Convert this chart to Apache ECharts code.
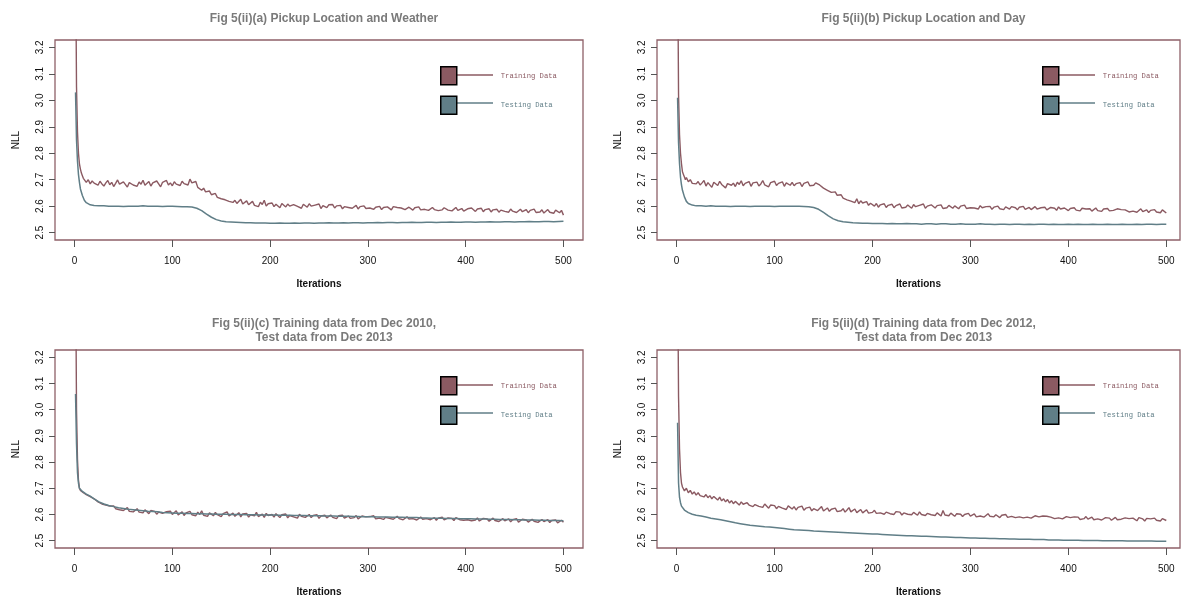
<!DOCTYPE html>
<html><head><meta charset="utf-8">
<script src="https://cdn.jsdelivr.net/npm/echarts@6/dist/echarts.min.js"></script>
<style>html,body{margin:0;padding:0;background:#fff}#c{width:1181px;height:598px}</style>
</head><body><div id="c"></div>
<script>
// iterations for the (smooth) testing series
const testIters = [1,2,3,4,5,6,8,10,12,14,16,18,20,
 25,30,35,40,45,50,55,60,65,70,75,80,85,90,95,100,105,110,115,
 120,125,130,135,140,145,150,155,160,165,170,175,180,185,190,195,200,
 205,210,215,220,225,230,235,240,245,250,255,260,265,270,275,280,285,290,295,300,
 305,310,315,320,325,330,335,340,345,350,355,360,365,370,375,380,385,390,395,400,
 405,410,415,420,425,430,435,440,445,450,455,460,465,470,475,480,485,490,495,500];
// iterations for the (noisy) training series: 1..10, 12..20, then every 2nd iteration to 500
const trainIters = [1,2,3,4,5,6,7,8,9,10,12,14,16,18,20];
for (let it = 22; it <= 500; it += 2) trainIters.push(it);

const titles = [
 'Fig 5(ii)(a) Pickup Location and Weather',
 'Fig 5(ii)(b) Pickup Location and Day',
 'Fig 5(ii)(c) Training data from Dec 2010,\nTest data from Dec 2013',
 'Fig 5(ii)(d) Training data from Dec 2012,\nTest data from Dec 2013'
];
const xTicks = [0,100,200,300,400,500];
const yTicks = [2.5,2.6,2.7,2.8,2.9,3.0,3.1,3.2];

// Panel (a)
const trainA = [3.60,3.05,2.88,2.80,2.76,2.74,2.725,2.715,2.705,2.698,2.69,2.70,2.684,2.695,2.687,
 2.690,2.679,2.694,2.684,2.676,2.688,2.697,2.681,2.690,2.674,
 2.686,2.699,2.683,2.677,2.692,2.685,2.672,2.689,2.696,2.680,
 2.687,2.675,2.691,2.683,2.698,2.679,2.686,2.693,2.676,2.688,
 2.681,2.695,2.684,2.673,2.690,2.686,2.697,2.680,2.688,2.677,
 2.692,2.683,2.689,2.678,2.694,2.685,2.691,2.680,2.702,2.688,
 2.683,2.693,2.671,2.666,2.660,2.668,2.654,2.650,2.657,2.643,
 2.640,2.648,2.633,2.637,2.628,2.635,2.624,2.630,2.618,2.625,
 2.614,2.622,2.610,2.617,2.626,2.608,2.614,2.620,2.605,2.612,
 2.618,2.603,2.610,2.598,2.615,2.606,2.622,2.600,2.609,2.604,
 2.612,2.598,2.607,2.601,2.594,2.610,2.603,2.597,2.608,2.600,
 2.595,2.606,2.612,2.599,2.603,2.592,2.607,2.601,2.596,2.609,
 2.600,2.593,2.604,2.597,2.608,2.591,2.602,2.598,2.594,2.605,
 2.599,2.606,2.593,2.601,2.596,2.603,2.590,2.598,2.604,2.595,
 2.600,2.592,2.597,2.603,2.589,2.598,2.594,2.601,2.591,2.597,
 2.593,2.600,2.588,2.596,2.592,2.599,2.587,2.595,2.590,2.597,
 2.594,2.586,2.598,2.591,2.595,2.588,2.593,2.599,2.587,2.592,
 2.596,2.589,2.585,2.594,2.590,2.597,2.586,2.592,2.588,2.595,
 2.584,2.591,2.595,2.587,2.593,2.583,2.590,2.586,2.594,2.589,
 2.585,2.592,2.582,2.589,2.595,2.584,2.588,2.591,2.581,2.587,
 2.590,2.583,2.593,2.586,2.580,2.589,2.584,2.592,2.579,2.587,
 2.583,2.590,2.578,2.586,2.581,2.588,2.577,2.585,2.591,2.580,
 2.584,2.577,2.589,2.581,2.586,2.576,2.583,2.588,2.579,2.582,
 2.587,2.575,2.584,2.580,2.589,2.576,2.582,2.578,2.586,2.574,
 2.581,2.587,2.577,2.583,2.573,2.585,2.579,2.575,2.584,2.566];
const testA = [3.03,2.85,2.77,2.72,2.69,2.665,2.64,2.622,2.613,2.608,2.605,2.603,2.602,
 2.601,2.601,2.600,2.600,2.600,2.599,2.600,2.600,2.600,2.601,2.600,2.600,2.600,2.599,2.600,2.600,2.599,2.598,2.598,
 2.597,2.592,2.583,2.570,2.558,2.549,2.544,2.541,2.540,2.539,2.538,2.537,2.537,2.536,2.536,2.536,2.535,
 2.535,2.536,2.535,2.535,2.536,2.535,2.536,2.536,2.535,2.536,2.536,2.537,2.536,2.536,2.537,2.536,2.537,2.537,2.536,2.537,
 2.537,2.538,2.537,2.538,2.538,2.537,2.538,2.538,2.539,2.538,2.538,2.539,2.539,2.538,2.539,2.539,2.540,2.539,2.539,2.540,
 2.540,2.539,2.540,2.540,2.541,2.540,2.540,2.541,2.541,2.540,2.541,2.541,2.542,2.541,2.541,2.542,2.542,2.541,2.542,2.543];

// Panel (b)
const trainB = [3.60,3.02,2.87,2.80,2.76,2.73,2.72,2.71,2.70,2.708,2.692,2.70,2.686,2.693,2.684,
 2.693,2.680,2.688,2.697,2.676,2.689,2.683,2.671,2.690,2.684,
 2.678,2.694,2.682,2.688,2.669,2.685,2.692,2.679,2.687,2.674,
 2.690,2.682,2.696,2.677,2.686,2.681,2.693,2.675,2.688,2.683,
 2.691,2.676,2.684,2.697,2.680,2.687,2.673,2.689,2.682,2.694,
 2.678,2.686,2.681,2.692,2.675,2.688,2.684,2.679,2.690,2.677,
 2.685,2.680,2.689,2.674,2.686,2.681,2.692,2.677,2.684,2.679,
 2.688,2.694,2.680,2.675,2.668,2.672,2.660,2.664,2.652,2.648,
 2.654,2.641,2.636,2.643,2.630,2.634,2.624,2.630,2.619,2.624,
 2.613,2.628,2.609,2.620,2.612,2.605,2.617,2.603,2.611,2.606,
 2.600,2.610,2.596,2.605,2.601,2.609,2.595,2.603,2.598,2.607,
 2.594,2.602,2.597,2.608,2.593,2.600,2.596,2.604,2.599,2.592,
 2.606,2.598,2.594,2.603,2.597,2.608,2.592,2.600,2.596,2.605,
 2.599,2.593,2.602,2.596,2.605,2.591,2.598,2.594,2.603,2.597,
 2.592,2.601,2.596,2.590,2.600,2.595,2.604,2.591,2.598,2.594,
 2.600,2.593,2.597,2.589,2.602,2.594,2.590,2.598,2.593,2.599,
 2.588,2.596,2.592,2.600,2.590,2.595,2.587,2.597,2.592,2.589,
 2.598,2.591,2.594,2.586,2.596,2.590,2.599,2.588,2.593,2.595,
 2.587,2.592,2.598,2.589,2.585,2.594,2.590,2.596,2.586,2.591,
 2.595,2.588,2.592,2.584,2.597,2.589,2.586,2.593,2.588,2.583,
 2.591,2.587,2.594,2.585,2.590,2.582,2.592,2.586,2.589,2.584,
 2.590,2.581,2.588,2.593,2.583,2.587,2.580,2.589,2.585,2.591,
 2.582,2.588,2.584,2.579,2.590,2.583,2.587,2.580,2.586,2.589,
 2.578,2.585,2.581,2.588,2.577,2.584,2.590,2.579,2.583,2.586,
 2.576,2.584,2.580,2.587,2.578,2.583,2.575,2.586,2.580,2.574];
const testB = [3.01,2.84,2.76,2.71,2.68,2.66,2.635,2.618,2.610,2.606,2.604,2.602,2.601,
 2.601,2.600,2.601,2.600,2.600,2.600,2.599,2.600,2.600,2.600,2.599,2.600,2.600,2.600,2.600,2.599,2.600,2.600,2.600,
 2.600,2.600,2.599,2.598,2.595,2.588,2.576,2.563,2.552,2.545,2.541,2.539,2.537,2.536,2.535,2.535,2.534,
 2.534,2.534,2.533,2.534,2.533,2.533,2.534,2.533,2.533,2.532,2.533,2.533,2.532,2.533,2.533,2.532,2.532,2.533,2.532,2.532,
 2.532,2.533,2.532,2.532,2.531,2.532,2.532,2.531,2.532,2.532,2.531,2.532,2.531,2.532,2.532,2.531,2.532,2.531,2.531,2.532,
 2.531,2.532,2.531,2.531,2.532,2.531,2.531,2.532,2.531,2.531,2.532,2.531,2.531,2.532,2.531,2.532,2.532,2.531,2.532,2.532];

// Panel (c)
const trainC = [3.60,3.00,2.81,2.73,2.70,2.692,2.688,2.685,2.683,2.684,2.676,2.680,2.668,2.664,2.660,
 2.654,2.648,2.651,2.640,2.644,2.636,2.641,2.632,2.628,2.633,
 2.622,2.629,2.618,2.625,2.615,2.621,2.626,2.612,2.619,2.610,
 2.616,2.622,2.609,2.614,2.606,2.618,2.611,2.603,2.615,2.608,
 2.612,2.601,2.609,2.616,2.604,2.599,2.611,2.605,2.613,2.600,
 2.607,2.614,2.598,2.604,2.610,2.596,2.606,2.602,2.612,2.599,
 2.605,2.595,2.609,2.600,2.614,2.597,2.603,2.593,2.606,2.601,
 2.595,2.608,2.599,2.604,2.592,2.603,2.598,2.610,2.594,2.600,
 2.605,2.593,2.599,2.607,2.591,2.602,2.596,2.604,2.590,2.599,
 2.603,2.595,2.608,2.592,2.598,2.601,2.589,2.604,2.596,2.593,
 2.600,2.590,2.603,2.596,2.588,2.599,2.594,2.602,2.587,2.596,
 2.599,2.591,2.595,2.586,2.601,2.593,2.597,2.589,2.594,2.600,
 2.588,2.596,2.592,2.599,2.585,2.594,2.590,2.597,2.587,2.593,
 2.598,2.589,2.592,2.584,2.595,2.591,2.597,2.586,2.590,2.594,
 2.585,2.592,2.588,2.596,2.583,2.590,2.594,2.587,2.591,2.584,
 2.592,2.588,2.595,2.583,2.590,2.586,2.593,2.581,2.589,2.594,
 2.585,2.590,2.582,2.588,2.593,2.584,2.589,2.580,2.587,2.591,
 2.583,2.588,2.584,2.591,2.579,2.586,2.590,2.582,2.587,2.584,
 2.589,2.580,2.585,2.588,2.578,2.586,2.582,2.590,2.579,2.584,
 2.587,2.581,2.585,2.577,2.588,2.583,2.580,2.586,2.578,2.584,
 2.580,2.586,2.576,2.583,2.579,2.587,2.575,2.582,2.585,2.578,
 2.583,2.574,2.581,2.586,2.577,2.582,2.573,2.580,2.584,2.576,
 2.579,2.583,2.572,2.580,2.576,2.584,2.571,2.578,2.582,2.575,
 2.579,2.571,2.577,2.582,2.574,2.580,2.570,2.577,2.581,2.573,
 2.576,2.580,2.569,2.577,2.573,2.579,2.568,2.575,2.578,2.570];
const testC = [3.06,2.87,2.76,2.72,2.70,2.695,2.688,2.682,2.678,2.674,2.670,2.665,2.660,
 2.648,2.640,2.634,2.630,2.626,2.623,2.620,2.618,2.616,2.614,2.612,2.611,2.610,2.608,2.607,2.606,2.605,2.605,2.604,
 2.604,2.603,2.603,2.602,2.602,2.601,2.601,2.601,2.600,2.600,2.600,2.599,2.599,2.599,2.598,2.598,2.598,
 2.598,2.597,2.597,2.597,2.596,2.596,2.596,2.595,2.595,2.595,2.594,2.594,2.594,2.593,2.593,2.593,2.592,2.592,2.591,2.591,
 2.591,2.590,2.590,2.590,2.589,2.589,2.589,2.588,2.588,2.588,2.587,2.587,2.586,2.586,2.586,2.585,2.585,2.585,2.584,2.584,
 2.584,2.583,2.583,2.583,2.582,2.582,2.581,2.581,2.581,2.580,2.580,2.579,2.579,2.579,2.578,2.578,2.577,2.577,2.577,2.576];

// Panel (d)
const trainD = [3.60,3.05,2.85,2.76,2.72,2.705,2.70,2.69,2.695,2.70,2.683,2.692,2.678,2.686,2.674,
 2.683,2.672,2.679,2.667,2.676,2.664,2.672,2.660,2.669,2.663,
 2.655,2.666,2.652,2.660,2.648,2.657,2.644,2.653,2.641,2.650,
 2.643,2.636,2.648,2.639,2.632,2.645,2.636,2.641,2.630,2.638,
 2.644,2.631,2.637,2.627,2.640,2.633,2.624,2.636,2.629,2.634,
 2.622,2.631,2.637,2.624,2.629,2.619,2.633,2.626,2.621,2.630,
 2.617,2.627,2.623,2.632,2.616,2.624,2.620,2.628,2.614,2.622,
 2.627,2.615,2.621,2.630,2.613,2.619,2.625,2.612,2.620,2.616,
 2.624,2.611,2.618,2.614,2.622,2.609,2.617,2.626,2.610,2.615,
 2.621,2.607,2.614,2.619,2.606,2.613,2.618,2.605,2.612,2.608,
 2.616,2.604,2.610,2.606,2.613,2.601,2.609,2.615,2.603,2.607,
 2.600,2.611,2.604,2.609,2.598,2.606,2.612,2.601,2.605,2.599,
 2.608,2.602,2.597,2.610,2.600,2.605,2.596,2.604,2.609,2.599,
 2.603,2.596,2.606,2.600,2.594,2.615,2.598,2.602,2.595,2.605,
 2.599,2.593,2.603,2.597,2.601,2.592,2.600,2.596,2.604,2.594,
 2.598,2.602,2.591,2.597,2.594,2.600,2.590,2.597,2.603,2.593,
 2.596,2.591,2.599,2.594,2.588,2.597,2.592,2.600,2.589,2.595,
 2.593,2.598,2.588,2.594,2.591,2.596,2.587,2.593,2.590,2.597,
 2.586,2.592,2.595,2.588,2.591,2.585,2.594,2.589,2.593,2.586,
 2.590,2.595,2.584,2.591,2.587,2.593,2.583,2.589,2.592,2.586,
 2.588,2.583,2.591,2.586,2.590,2.581,2.588,2.584,2.592,2.582,
 2.587,2.590,2.580,2.586,2.583,2.589,2.579,2.585,2.588,2.581,
 2.586,2.578,2.584,2.589,2.580,2.585,2.582,2.577,2.587,2.581,
 2.584,2.578,2.586,2.580,2.576,2.588,2.581,2.583,2.575,2.585,
 2.579,2.583,2.576,2.586,2.578,2.581,2.575,2.584,2.579,2.577];
const testD = [2.95,2.72,2.665,2.645,2.632,2.625,2.617,2.611,2.607,2.604,2.601,2.599,2.597,
 2.594,2.590,2.586,2.583,2.580,2.576,2.572,2.568,2.565,2.562,2.559,2.557,2.555,2.553,2.552,2.550,2.548,2.546,2.544,
 2.542,2.541,2.540,2.539,2.537,2.536,2.535,2.534,2.533,2.532,2.531,2.530,2.529,2.528,2.527,2.526,2.525,
 2.525,2.524,2.523,2.522,2.521,2.520,2.519,2.519,2.518,2.517,2.517,2.516,2.515,2.514,2.514,2.513,2.512,2.512,2.511,2.510,
 2.510,2.509,2.509,2.508,2.508,2.507,2.507,2.506,2.506,2.505,2.505,2.505,2.504,2.504,2.504,2.503,2.503,2.503,2.502,2.502,
 2.502,2.502,2.501,2.501,2.501,2.501,2.500,2.500,2.500,2.500,2.500,2.499,2.499,2.499,2.499,2.499,2.499,2.498,2.498,2.498];

const trainSets = [trainA, trainB, trainC, trainD];
const testSets = [testA, testB, testC, testD];

const TRAIN = '#8B5A62', TEST = '#607E87', FRAME = '#8E6068';
const grids = [
 {left:55, top:40, width:528, height:200, xmax:520},
 {left:657, top:40, width:523, height:200, xmax:514},
 {left:55, top:350, width:528, height:200, xmax:520},
 {left:657, top:350, width:523, height:200, xmax:514}
];
const sans = 'Liberation Sans, Arial, sans-serif';
const mono = 'Liberation Mono, Courier New, monospace';

const option = {animation:false, backgroundColor:'#fff',
 title:[], grid:[], xAxis:[], yAxis:[], series:[], legend:[], graphic:[]};

grids.forEach((g,i)=>{
 const twoLine = titles[i].indexOf('\n')>=0;
 option.title.push({text:titles[i], left:g.left+g.width/2, top: twoLine ? g.top-38 : g.top-33,
   textAlign:'center',
   textStyle:{fontFamily:sans, fontSize:12, fontWeight:'bold', color:'#7a7a7a', lineHeight:14}});
 option.grid.push({left:g.left, top:g.top, width:g.width, height:g.height, show:true,
   borderColor:FRAME, borderWidth:1.3, backgroundColor:'transparent', containLabel:false});
 option.xAxis.push({type:'value', gridIndex:i, min:-20, max:g.xmax,
   name:'Iterations', nameLocation:'middle', nameGap:39,
   nameTextStyle:{fontFamily:sans, fontSize:10, fontWeight:'bold', color:'#111'},
   axisLine:{show:false, onZero:false}, splitLine:{show:false},
   axisTick:{show:true, length:7, customValues:xTicks, lineStyle:{color:'#555', width:1}},
   axisLabel:{customValues:xTicks, margin:16, fontFamily:sans, fontSize:10, color:'#111'}});
 option.yAxis.push({type:'value', gridIndex:i, min:2.472, max:3.228,
   name:'NLL', nameLocation:'middle', nameGap:34, nameRotate:90,
   nameTextStyle:{fontFamily:sans, fontSize:10, color:'#111'},
   axisLine:{show:false, onZero:false}, splitLine:{show:false},
   axisTick:{show:true, length:6, customValues:yTicks, lineStyle:{color:'#555', width:1}},
   axisLabel:{customValues:yTicks, rotate:90, margin:10, fontFamily:sans, fontSize:10, color:'#111',
     formatter:v=>v.toFixed(1)}});
 option.series.push({name:'Training Data', type:'line', xAxisIndex:i, yAxisIndex:i,
   showSymbol:false, symbol:'none', color:TRAIN, lineStyle:{color:TRAIN, width:1.4},
   itemStyle:{color:TRAIN}, data:trainIters.map((x,k)=>[x, trainSets[i][k]])});
 option.series.push({name:'Testing Data', type:'line', xAxisIndex:i, yAxisIndex:i,
   showSymbol:false, symbol:'none', color:TEST, lineStyle:{color:TEST, width:1.5},
   itemStyle:{color:TEST}, data:testIters.map((x,k)=>[x, testSets[i][k]])});
 const lx = g.left + 385, ly = g.top + 26;
 option.legend.push({left:lx, top:ly, padding:0, orient:'vertical', itemWidth:16, itemHeight:18, itemGap:10,
   icon:'rect', selectedMode:false,
   textStyle:{fontFamily:mono, fontSize:7.2, padding:[0,0,0,39]},
   data:[
    {name:'Training Data', icon:'rect', itemStyle:{color:TRAIN, borderColor:'#000', borderWidth:1.5}, textStyle:{color:TRAIN}},
    {name:'Testing Data', icon:'rect', itemStyle:{color:TEST, borderColor:'#000', borderWidth:1.5}, textStyle:{color:TEST}}
   ]});
 option.graphic.push({type:'line', shape:{x1:lx+17, y1:ly+9, x2:lx+53, y2:ly+9}, style:{stroke:TRAIN, lineWidth:1.5}, silent:true});
 option.graphic.push({type:'line', shape:{x1:lx+17, y1:ly+37, x2:lx+53, y2:ly+37}, style:{stroke:TEST, lineWidth:1.5}, silent:true});
});

const chart = echarts.init(document.getElementById('c'), null, {renderer:'canvas'});
chart.setOption(option);
</script>
</body></html>
